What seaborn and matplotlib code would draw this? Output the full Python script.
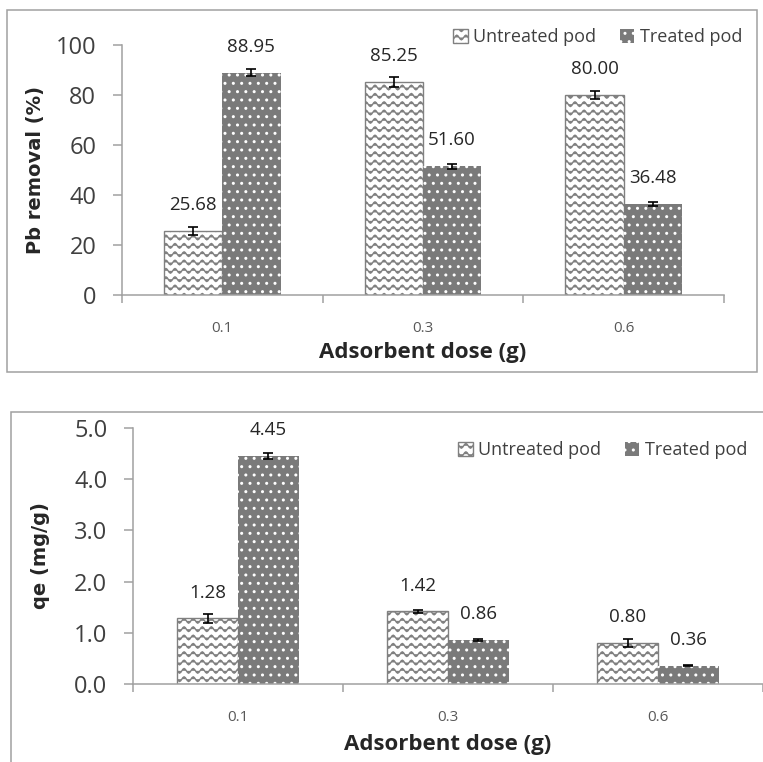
import numpy as np
import pandas as pd
import matplotlib
matplotlib.use('Agg')
import matplotlib.pyplot as plt
import matplotlib.hatch as mhatch
from matplotlib.path import Path
from matplotlib.patches import Patch, Rectangle
import seaborn as sns

# data
doses = ['0.1', '0.3', '0.6']
treatments = ['Untreated pod', 'Treated pod']

removal_untreated = [25.68, 85.25, 80.00]
removal_treated = [88.95, 51.60, 36.48]
removal_untreated_err = [1.6, 1.9, 1.6]
removal_treated_err = [1.3, 1.0, 0.9]

qe_untreated = [1.28, 1.42, 0.80]
qe_treated = [4.45, 0.86, 0.36]
qe_untreated_err = [0.08, 0.03, 0.07]
qe_treated_err = [0.06, 0.015, 0.01]


# wavy lines instead of straight ones for the '-' hatch
class WaveHatch(mhatch.HatchPatternBase):
    def __init__(self, hatch, density):
        self.num_lines = hatch.count('-') * 6
        self.periods = 11
        self.num_pts = self.periods * 8 + 1
        self.num_vertices = self.num_lines * self.num_pts

    def set_vertices_and_codes(self, vertices, codes):
        xs = np.linspace(0, 1, self.num_pts)
        wave = 0.28 / max(self.num_lines, 1) * np.sin(2 * np.pi * self.periods * xs)
        for i in range(self.num_lines):
            y0 = (i + 0.5) / self.num_lines
            sl = slice(i * self.num_pts, (i + 1) * self.num_pts)
            vertices[sl, 0] = xs
            vertices[sl, 1] = y0 + wave
            codes[sl] = Path.LINETO
            codes[i * self.num_pts] = Path.MOVETO


mhatch._hatch_types = [WaveHatch if t is mhatch.HorizontalHatch else t
                       for t in mhatch._hatch_types]

sns.set_theme(style='white')
plt.rcParams['font.family'] = ['Open Sans', 'DejaVu Sans']
plt.rcParams['hatch.linewidth'] = 1.0

axis_grey = '#a0a0a0'
wave_grey = '#808080'
dark_fill = '#7a7a7a'
text_dark = '#262626'

fig = plt.figure(figsize=(7.63, 7.62), dpi=100)

# panel frames
fig.add_artist(Rectangle((0.0092, 0.5118), 0.9828, 0.4751, transform=fig.transFigure,
                         fill=False, edgecolor=axis_grey, linewidth=1.1))
fig.add_artist(Rectangle((0.0144, -0.1), 1.2, 0.5593, transform=fig.transFigure,
                         fill=False, edgecolor=axis_grey, linewidth=1.1))


def make_panel(rect, untreated, treated, err_u, err_t, ylim, yticks, yfmt, ylabel,
               ylabel_x, xlabel_y, legend_xy):
    ax = fig.add_axes(rect)
    df = pd.DataFrame({
        'dose': doses * 2,
        'treatment': [treatments[0]] * 3 + [treatments[1]] * 3,
        'value': list(untreated) + list(treated),
    })
    sns.barplot(data=df, x='dose', y='value', hue='treatment', order=doses,
                hue_order=treatments, palette=['white', dark_fill], width=0.58,
                errorbar=None, legend=False, ax=ax)

    bars_u, bars_t = ax.containers[0], ax.containers[1]
    for p in bars_u:
        p.set_facecolor('white')
        p.set_edgecolor(wave_grey)
        p.set_linewidth(1.0)
        p.set_hatch('--')
    for p in bars_t:
        p.set_facecolor(dark_fill)
        p.set_edgecolor('white')
        p.set_linewidth(0)
        p.set_hatch('..')

    ax.bar_label(bars_u, fmt='%.2f', padding=12, fontsize=13.5, color=text_dark)
    ax.bar_label(bars_t, fmt='%.2f', padding=12, fontsize=13.5, color=text_dark)

    for bars, vals, errs in [(bars_u, untreated, err_u), (bars_t, treated, err_t)]:
        xs = [p.get_x() + p.get_width() / 2 for p in bars]
        ax.errorbar(xs, vals, yerr=errs, fmt='none', ecolor='black',
                    elinewidth=1.2, capsize=3.5, capthick=1.2)

    ax.set_xlim(-0.5, 2.5)
    ax.set_ylim(*ylim)
    ax.set_yticks(yticks)
    ax.set_yticklabels([yfmt.format(v) for v in yticks])
    ax.set_xticks([-0.5, 0.5, 1.5, 2.5], minor=True)
    ax.tick_params(axis='x', which='major', length=0, pad=19, labelsize=11,
                   labelcolor='#595959')
    ax.tick_params(axis='x', which='minor', length=6, width=1.1, color=axis_grey,
                   direction='out', bottom=True)
    ax.tick_params(axis='y', length=6.5, width=1.1, color=axis_grey, direction='out',
                   left=True, pad=12, labelsize=17, labelcolor='#404040')

    sns.despine(ax=ax)
    for side in ['left', 'bottom']:
        ax.spines[side].set_color(axis_grey)
        ax.spines[side].set_linewidth(1.1)

    ax.set_ylabel(ylabel, fontsize=14, fontweight='bold', color=text_dark,
                  family='DejaVu Sans')
    ax.yaxis.set_label_coords(ylabel_x, 0.5)
    ax.set_xlabel('Adsorbent dose (g)', fontsize=16, fontweight='bold', color=text_dark)
    ax.xaxis.set_label_coords(0.5, xlabel_y)
    ax.xaxis.label.set_va('center')

    handles = [Patch(facecolor='white', edgecolor=wave_grey, linewidth=1.0, hatch='--'),
               Patch(facecolor=dark_fill, edgecolor='white', linewidth=0, hatch='..')]
    fig.legend(handles, treatments, loc='center right', bbox_to_anchor=legend_xy,
               bbox_transform=fig.transFigure, ncol=2, frameon=False, fontsize=13,
               handlelength=0.8, handleheight=0.8, handletextpad=0.3,
               columnspacing=1.3, borderpad=0, borderaxespad=0,
               labelcolor='#404040')
    return ax


make_panel([0.1599, 0.6129, 0.789, 0.328], removal_untreated, removal_treated,
           removal_untreated_err, removal_treated_err, (0, 100),
           [0, 20, 40, 60, 80, 100], '{:.0f}', 'Pb removal (%)',
           -0.128, -0.23, (742 / 763, 1 - 37 / 762))

make_panel([0.1743, 0.1024, 0.8257, 0.336], qe_untreated, qe_treated,
           qe_untreated_err, qe_treated_err, (0, 5),
           [0, 1, 2, 3, 4, 5], '{:.1f}', 'qe (mg/g)',
           -0.132, -0.238, (747 / 763, 1 - 450 / 762))

fig.savefig('out.png', dpi=100)
